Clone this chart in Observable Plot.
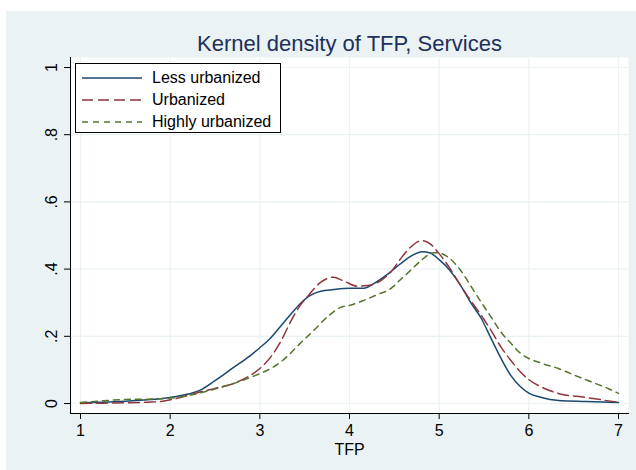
<!DOCTYPE html>
<html>
<head>
<meta charset="utf-8">
<script src="https://cdn.jsdelivr.net/npm/d3@7"></script>
<script src="https://cdn.jsdelivr.net/npm/@observablehq/plot@0.6"></script>
<style>
  html, body { margin: 0; padding: 0; background: #ffffff; }
  #wrap { position: relative; width: 636px; height: 470px; overflow: hidden; font-family: "Liberation Sans", Arial, sans-serif; }
  #panel { position: absolute; left: 6px; top: 11px; width: 630px; height: 459px; background: #eaf2f3; }
  #chart { position: absolute; left: 0; top: 0; }
  #legend { position: absolute; left: 75px; top: 63px; width: 206px; height: 70px; border: 1px solid #000; background: #fff; box-sizing: border-box; }
  #legend .row { position: absolute; left: 6px; height: 20px; display: flex; align-items: center; font-size: 16px; color: #000; }
  #legend .row svg { margin-right: 10px; }
</style>
</head>
<body>
<div id="wrap">
  <div id="panel"></div>
  <div id="chart"></div>
  <div id="legend"></div>
</div>
<script>
const titleText = "Kernel density of TFP, Services";
const xLabel = "TFP";
const seriesNames = ["Less urbanized", "Urbanized", "Highly urbanized"];
const seriesColors = ["#1a476f", "#90353b", "#55752f"];
const seriesDash = [null, "11,5", "6,5"];

const xTicks = [1, 2, 3, 4, 5, 6, 7];
const yTicks = [0, 0.2, 0.4, 0.6, 0.8, 1];
const yTickLabels = ["0", ".2", ".4", ".6", ".8", "1"];

const lessX = [1.0,1.25,1.5,1.75,2.0,2.2,2.33,2.5,2.7,2.89,3.0,3.12,3.23,3.34,3.45,3.54,3.68,3.82,4.0,4.16,4.27,4.43,4.57,4.68,4.81,4.9,5.0,5.12,5.24,5.35,5.47,5.58,5.69,5.8,5.91,6.0,6.14,6.33,6.64,7.0];
const lessY = [0.002,0.004,0.007,0.011,0.018,0.028,0.039,0.068,0.106,0.142,0.166,0.195,0.229,0.264,0.297,0.318,0.334,0.339,0.343,0.343,0.357,0.386,0.416,0.438,0.452,0.448,0.428,0.396,0.351,0.301,0.253,0.193,0.134,0.083,0.049,0.031,0.018,0.009,0.006,0.003];

const urbX = [1.0,1.25,1.5,1.75,1.9,2.0,2.2,2.33,2.5,2.7,2.89,3.0,3.12,3.23,3.34,3.45,3.54,3.68,3.82,3.94,4.09,4.2,4.35,4.46,4.57,4.68,4.81,4.9,5.0,5.12,5.24,5.35,5.47,5.58,5.69,5.8,5.91,6.0,6.14,6.33,6.64,7.0];
const urbY = [0.0,0.001,0.002,0.004,0.006,0.011,0.024,0.034,0.045,0.059,0.083,0.104,0.138,0.183,0.242,0.292,0.321,0.361,0.376,0.364,0.349,0.351,0.366,0.391,0.431,0.465,0.485,0.475,0.446,0.402,0.351,0.307,0.262,0.217,0.168,0.128,0.093,0.071,0.049,0.030,0.018,0.003];

const highX = [1.0,1.25,1.5,1.75,2.0,2.2,2.33,2.5,2.7,2.89,3.0,3.12,3.23,3.34,3.45,3.6,3.75,3.9,4.0,4.16,4.31,4.46,4.57,4.68,4.8,4.94,5.0,5.12,5.24,5.35,5.47,5.58,5.69,5.8,5.91,6.0,6.14,6.33,6.52,6.71,6.89,7.0];
const highY = [0.003,0.008,0.012,0.013,0.016,0.024,0.031,0.043,0.059,0.077,0.089,0.104,0.123,0.149,0.179,0.217,0.257,0.286,0.292,0.307,0.324,0.342,0.369,0.396,0.426,0.449,0.448,0.431,0.396,0.351,0.301,0.257,0.212,0.179,0.149,0.134,0.120,0.104,0.083,0.063,0.044,0.030];

const seriesX = [lessX, urbX, highX];
const seriesY = [lessY, urbY, highY];
const rows = seriesNames.flatMap((name, i) => seriesX[i].map((x, j) => ({series: name, x, y: seriesY[i][j]})));

const font = "'Liberation Sans', Arial, sans-serif";

const lineMarks = seriesNames.map((name, i) =>
  Plot.line(rows.filter(d => d.series === name), {
    x: "x", y: "y", stroke: seriesColors[i], strokeWidth: 1.5,
    strokeDasharray: seriesDash[i] || undefined, curve: "monotone-x"
  })
);

const chart = Plot.plot({
  width: 636,
  height: 470,
  marginLeft: 70,
  marginRight: 8,
  marginTop: 57,
  marginBottom: 57,
  style: { background: "transparent", fontFamily: font, fontSize: "16px", color: "#000", overflow: "visible" },
  x: { domain: [1 - 10 / 89.667, 7 + 10 / 89.667] },
  y: { domain: [-10 / 336, 1 + 10 / 336] },
  marks: [
    Plot.frame({ fill: "#ffffff", stroke: null }),
    Plot.gridX(xTicks, { stroke: "#eaf2f3", strokeOpacity: 1, strokeWidth: 1.2 }),
    Plot.gridY(yTicks, { stroke: "#eaf2f3", strokeOpacity: 1, strokeWidth: 1.2 }),
    ...lineMarks,
    Plot.frame({ anchor: "left", stroke: "#000", strokeWidth: 1 }),
    Plot.frame({ anchor: "bottom", stroke: "#000", strokeWidth: 1 }),
    Plot.axisX(xTicks, { tickSize: 6, tickPadding: 5, fontSize: 16, tickFormat: d => String(d), label: null }),
    Plot.axisY(yTicks, { tickSize: 6, tickFormat: () => "", label: null }),
    Plot.text(yTicks, { y: d => d, frameAnchor: "left", dx: -19, rotate: -90, text: (d, i) => yTickLabels[i], textAnchor: "middle", lineAnchor: "middle", fontSize: 16, fill: "#000" }),
    Plot.text([xLabel], { frameAnchor: "bottom", dy: 36, text: d => d, fontSize: 16, fill: "#000", lineAnchor: "middle" }),
    Plot.text([titleText], { frameAnchor: "top", dy: -7, text: d => d, fontSize: 22, fill: "#1e2f5b", lineAnchor: "bottom" })
  ]
});
document.getElementById("chart").appendChild(chart);

const legend = document.getElementById("legend");
seriesNames.forEach((name, i) => {
  const row = document.createElement("div");
  row.className = "row";
  row.style.top = (4 + i * 22) + "px";
  const dash = seriesDash[i] ? ` stroke-dasharray="${seriesDash[i]}"` : "";
  row.innerHTML = `<svg width="60" height="6"><line x1="0" y1="3" x2="60" y2="3" stroke="${seriesColors[i]}" stroke-width="1.5"${dash}/></svg><span>${name}</span>`;
  legend.appendChild(row);
});
</script>
</body>
</html>
